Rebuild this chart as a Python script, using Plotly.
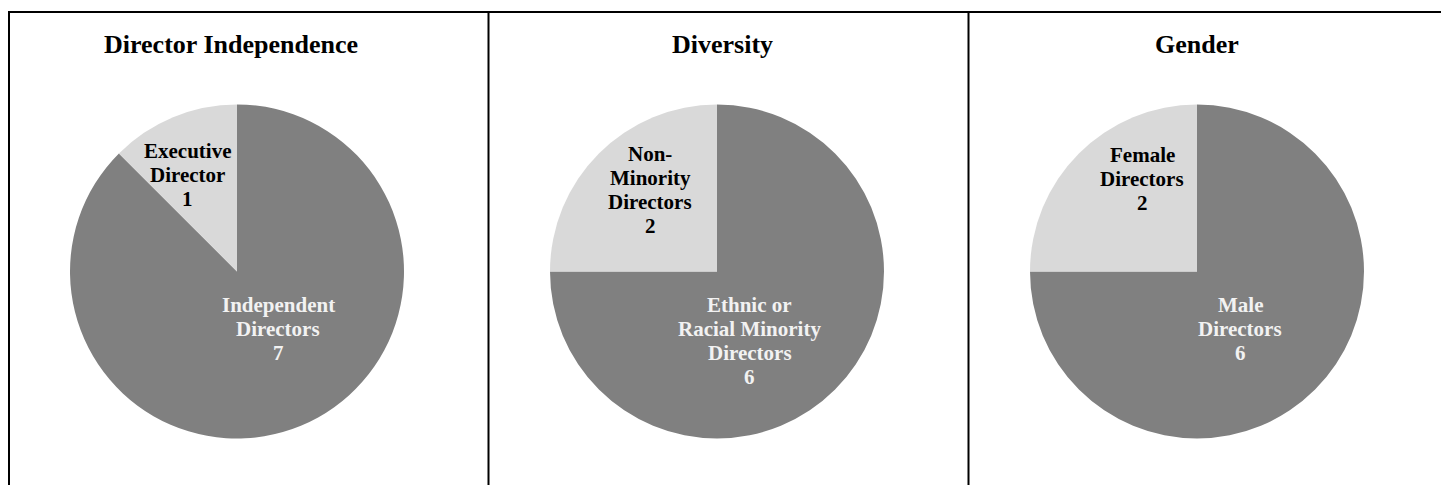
import plotly.graph_objects as go

# ---------------- data ----------------
titles = ["Director Independence", "Diversity", "Gender"]

independence_labels = ["Independent<br>Directors", "Executive<br>Director"]
independence_values = [7, 1]

diversity_labels = ["Ethnic or<br>Racial Minority<br>Directors", "Non-<br>Minority<br>Directors"]
diversity_values = [6, 2]

gender_labels = ["Male<br>Directors", "Female<br>Directors"]
gender_values = [6, 2]

# ---------------- style / layout ----------------
W, H = 1441, 485
DARK = "#808080"
LIGHT = "#D9D9D9"
FONT = "Liberation Serif, Times New Roman, serif"
TITLE_SIZE = 26
LABEL_SIZE = 21
LINE_STEP = 24

pie_cx = [237, 717, 1197]
pie_cy = 271.5
pie_r = 167
title_x = [231, 722, 1197]
title_y = 44

# label block centre offsets from pie centre (px), per slice
label_offsets = [
    [(41, 57), (-50, -97)],
    [(32.5, 69), (-67, -81.5)],
    [(43, 57), (-55, -93)],
]
label_colors = ["#F2F2F2", "#000000"]

panels = [
    (independence_labels, independence_values),
    (diversity_labels, diversity_values),
    (gender_labels, gender_values),
]

fig = go.Figure()
annotations = []

def px(x):
    return x / W

def py(y):
    return 1 - y / H

for i, (labs, vals) in enumerate(panels):
    cx = pie_cx[i]
    fig.add_trace(go.Pie(
        labels=[l.replace("<br>", " ") for l in labs],
        values=vals,
        sort=False,
        direction="clockwise",
        rotation=0,
        marker=dict(colors=[DARK, LIGHT], line=dict(width=0)),
        textinfo="none",
        hoverinfo="label+value",
        domain=dict(x=[px(cx - pie_r), px(cx + pie_r)],
                    y=[py(pie_cy + pie_r), py(pie_cy - pie_r)]),
        showlegend=False,
    ))
    annotations.append(dict(
        x=px(title_x[i]), y=py(title_y), xref="paper", yref="paper",
        text="<b>%s</b>" % titles[i], showarrow=False,
        xanchor="center", yanchor="middle",
        font=dict(family=FONT, size=TITLE_SIZE, color="black"),
    ))
    for j, (lab, val) in enumerate(zip(labs, vals)):
        lines = lab.split("<br>") + [str(val)]
        dx, dy = label_offsets[i][j]
        bx, by = cx + dx, pie_cy + dy
        n = len(lines)
        for k, line in enumerate(lines):
            ly = by + (k - (n - 1) / 2) * LINE_STEP
            annotations.append(dict(
                x=px(bx), y=py(ly), xref="paper", yref="paper",
                text="<b>%s</b>" % line, showarrow=False,
                xanchor="center", yanchor="middle",
                font=dict(family=FONT, size=LABEL_SIZE, color=label_colors[j]),
            ))

shapes = []
line_style = dict(color="black", width=2)
shapes.append(dict(type="line", xref="paper", yref="paper",
                   x0=px(8), x1=1, y0=py(12), y1=py(12), line=line_style))
for xv in [9, 488.5, 968.5]:
    shapes.append(dict(type="line", xref="paper", yref="paper",
                       x0=px(xv), x1=px(xv), y0=py(12), y1=0, line=line_style))

fig.update_layout(
    width=W, height=H,
    margin=dict(l=0, r=0, t=0, b=0),
    paper_bgcolor="white", plot_bgcolor="white",
    annotations=annotations, shapes=shapes,
    showlegend=False,
)

fig.write_html(
    "out.html",
    config={"displayModeBar": False},
    post_script="document.body.style.margin='0';document.body.style.overflow='hidden';",
)
